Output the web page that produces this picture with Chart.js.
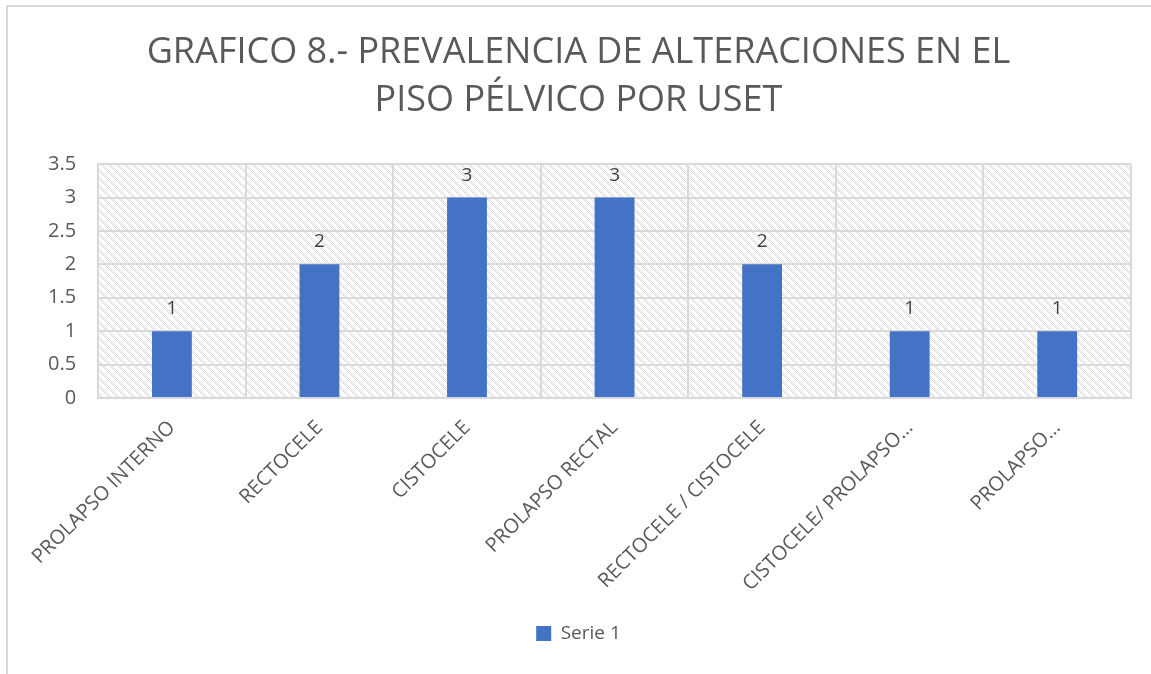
<!DOCTYPE html>
<html>
<head>
<meta charset="utf-8">
<script src="https://cdn.jsdelivr.net/npm/chart.js@4/dist/chart.umd.min.js"></script>
<style>
  html, body { margin: 0; padding: 0; background: #fff; }
  #wrap { width: 1151px; height: 674px; }
</style>
</head>
<body>
<div id="wrap"><canvas id="grafico" width="1151" height="674"></canvas></div>
<script>
// datos del gráfico
var categorias = [
    'PROLAPSO INTERNO',
    'RECTOCELE',
    'CISTOCELE',
    'PROLAPSO RECTAL',
    'RECTOCELE / CISTOCELE',
    'CISTOCELE/ PROLAPSO…',
    'PROLAPSO…'
];
var serie1 = [1, 2, 3, 3, 2, 1, 1];
var tituloLineas = ['GRAFICO 8.- PREVALENCIA DE ALTERACIONES EN EL', 'PISO PÉLVICO POR USET'];

var FUENTE = "'Open Sans', 'Noto Sans', sans-serif";
var GRIS_TEXTO = '#595959';
var GRIS_LINEA = '#d9d9d9';

/**
 * Trama diagonal punteada para el fondo del área de trazado
 */
function crearTrama(){
    var c = document.createElement('canvas');
    c.width = 8; c.height = 8;
    var g = c.getContext('2d');
    g.fillStyle = '#ffffff';
    g.fillRect(0, 0, 8, 8);
    g.fillStyle = '#dcdcdc';
    for (var y = 0; y < 8; y++){
        for (var x = 0; x < 8; x++){
            var d = ((x - y) % 8 + 8) % 8;
            if ((x + y) % 2 === 0 && d < 4) g.fillRect(x, y, 1, 1);
        }
    }
    return g.createPattern(c, 'repeat');
}

var fondoTrama = {
    id: 'fondoTrama',
    beforeDraw: function(chart){
        var ctx = chart.ctx, a = chart.chartArea;
        ctx.save();
        ctx.fillStyle = crearTrama();
        ctx.fillRect(a.left, a.top, a.right - a.left, a.bottom - a.top);
        ctx.restore();
    },
    afterDraw: function(chart){
        // marco exterior del gráfico
        var ctx = chart.ctx;
        ctx.save();
        ctx.strokeStyle = GRIS_LINEA;
        ctx.lineWidth = 2;
        ctx.beginPath();
        ctx.moveTo(7, 700);
        ctx.lineTo(7, 6);
        ctx.lineTo(1200, 6);
        ctx.stroke();
        ctx.restore();
    }
};

var etiquetasValor = {
    id: 'etiquetasValor',
    afterDatasetsDraw: function(chart){
        var ctx = chart.ctx;
        var meta = chart.getDatasetMeta(0);
        ctx.save();
        ctx.font = '19px ' + FUENTE;
        ctx.fillStyle = '#404040';
        ctx.textAlign = 'center';
        ctx.textBaseline = 'alphabetic';
        meta.data.forEach(function(bar, i){
            ctx.fillText(String(serie1[i]), bar.x, bar.y - 17);
        });
        ctx.restore();
    }
};

var ctx = document.getElementById('grafico').getContext('2d');

new Chart(ctx, {
    type: 'bar',
    data: {
        labels: categorias,
        datasets: [{
            label: 'Serie 1',
            data: serie1,
            backgroundColor: '#4472c4',
            borderWidth: 0,
            categoryPercentage: 1,
            barPercentage: 0.27
        }]
    },
    options: {
        responsive: false,
        animation: false,
        layout: { padding: { left: 26, right: 20, top: 28, bottom: 21 } },
        plugins: {
            title: {
                display: true,
                text: tituloLineas,
                color: GRIS_TEXTO,
                font: { family: FUENTE, size: 36, weight: 'normal', lineHeight: 1.35 },
                padding: { top: 0, bottom: 39 }
            },
            legend: {
                position: 'bottom',
                labels: {
                    color: GRIS_TEXTO,
                    font: { family: FUENTE, size: 19 },
                    boxWidth: 15,
                    boxHeight: 15,
                    padding: 10
                }
            },
            tooltip: { enabled: false }
        },
        scales: {
            x: {
                grid: { color: GRIS_LINEA, lineWidth: 2, offset: true, drawTicks: false },
                border: { color: GRIS_LINEA, width: 2 },
                ticks: {
                    color: GRIS_TEXTO,
                    font: { family: FUENTE, size: 20 },
                    minRotation: 45,
                    maxRotation: 45,
                    autoSkip: false,
                    padding: 18
                }
            },
            y: {
                min: 0,
                max: 3.5,
                grid: { color: GRIS_LINEA, lineWidth: 2, drawTicks: false },
                border: { color: GRIS_LINEA, width: 2 },
                ticks: {
                    stepSize: 0.5,
                    color: GRIS_TEXTO,
                    font: { family: FUENTE, size: 20 },
                    padding: 22,
                    callback: function(v){ return String(v); }
                }
            }
        }
    },
    plugins: [fondoTrama, etiquetasValor]
});
</script>
</body>
</html>
